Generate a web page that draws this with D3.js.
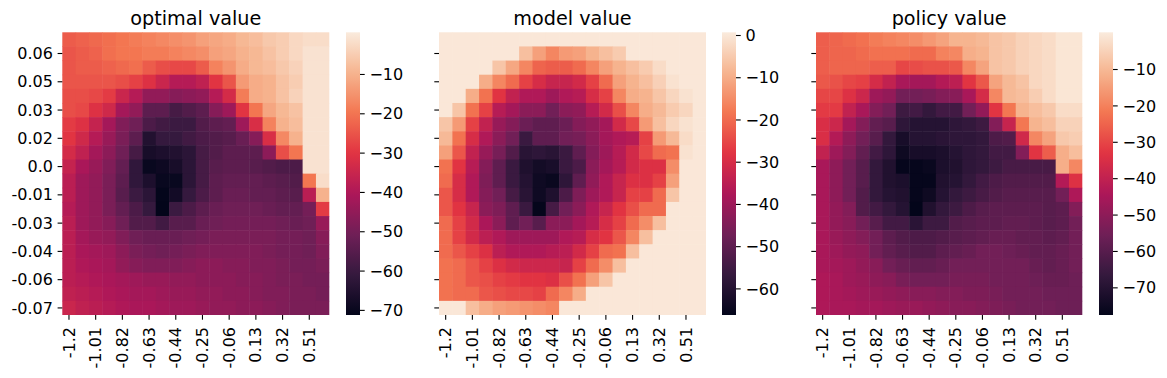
<!DOCTYPE html>
<html><head><meta charset="utf-8">
<script src="https://cdn.jsdelivr.net/npm/d3@7"></script>
<style>
html,body{margin:0;padding:0;background:#fff;}
text{font-family:"DejaVu Sans",sans-serif;fill:#000;}
</style></head><body>
<svg id="chart" width="1167" height="378"></svg>
<script>
// ---- categories / tick labels ----
const positions = ["-1.2","-1.11","-1.01","-0.92","-0.82","-0.73","-0.63","-0.54","-0.44","-0.35","-0.25","-0.16","-0.06","0.03","0.13","0.22","0.32","0.41","0.51","0.6"];
// velocity labels, top row first
const velocities = ["0.07","0.06","0.06","0.05","0.04","0.03","0.03","0.02","0.01","0.0","-0.0","-0.01","-0.02","-0.03","-0.03","-0.04","-0.05","-0.06","-0.06","-0.07"];
const titles = ["optimal value","model value","policy value"];

// ---- series values (rows: top = 0.07 velocity; cols: positions) ----
const optimalValue = [
[-24,-23,-22,-21,-20,-19,-18,-17,-16,-15,-13,-12,-11,-9,-8,-6,-5,-3,-2,-2],
[-25,-24,-23,-21,-20,-20,-19,-19,-18,-17,-16,-13,-12,-10,-9,-7,-5,-3,-1,-1],
[-25,-24,-24,-23,-22,-21,-24,-26,-27,-27,-24,-18,-15,-11,-9,-8,-6,-4,-1,-1],
[-25,-25,-25,-25,-26,-28,-31,-35,-39,-39,-37,-30,-25,-14,-11,-10,-7,-5,-1,-1],
[-26,-26,-27,-29,-35,-39,-45,-45,-47,-46,-45,-39,-33,-19,-11,-10,-7,-4,-1,-1],
[-26,-27,-31,-34,-42,-45,-54,-54,-58,-56,-54,-47,-43,-30,-20,-12,-9,-7,-1,-1],
[-29,-31,-36,-42,-48,-51,-57,-59,-60,-60,-56,-54,-53,-43,-32,-18,-10,-8,-1,-1],
[-30,-34,-39,-44,-49,-54,-65,-61,-61,-59,-57,-56,-55,-52,-47,-32,-17,-10,-1,-1],
[-33,-37,-42,-46,-51,-58,-67,-66,-65,-63,-58,-56,-54,-54,-54,-46,-26,-20,-1,-1],
[-36,-41,-44,-48,-53,-62,-70,-69,-67,-63,-58,-55,-54,-54,-55,-56,-57,-57,-1,-1],
[-38,-43,-45,-49,-54,-62,-66,-70,-70,-63,-58,-54,-53,-53,-53,-54,-55,-56,-20,-2],
[-38,-43,-45,-49,-55,-60,-63,-71,-68,-61,-57,-54,-52,-52,-53,-53,-54,-55,-38,-10],
[-39,-43,-45,-49,-53,-57,-61,-72,-60,-57,-54,-52,-51,-51,-51,-52,-53,-53,-50,-29],
[-38,-43,-45,-47,-51,-56,-56,-59,-55,-55,-52,-51,-50,-50,-50,-50,-51,-52,-51,-44],
[-38,-42,-44,-45,-48,-51,-52,-52,-52,-51,-50,-49,-49,-49,-49,-49,-50,-50,-51,-47],
[-38,-41,-42,-43,-46,-49,-50,-51,-50,-49,-48,-48,-48,-48,-48,-49,-50,-50,-51,-48],
[-38,-40,-41,-42,-45,-47,-48,-48,-48,-47,-46,-46,-47,-47,-48,-48,-49,-50,-50,-49],
[-38,-39,-40,-41,-42,-43,-44,-44,-45,-45,-46,-46,-46,-47,-47,-48,-49,-49,-50,-50],
[-37,-38,-39,-40,-41,-42,-42,-43,-44,-44,-45,-45,-46,-46,-47,-48,-48,-49,-49,-50],
[-35,-37,-38,-39,-40,-41,-41,-42,-43,-43,-44,-45,-45,-46,-46,-47,-48,-49,-49,-49]
];
const modelValue = [
[0,0,0,0,0,0,0,0,0,0,0,0,0,0,0,0,0,0,0,0],
[0,0,0,0,0,0,-7,-12,-16,-13,-12,-9,-7,-5,0,0,0,0,0,0],
[0,0,0,0,-6,-11,-16,-21,-22,-22,-20,-16,-12,-9,-7,-5,-2,0,0,0],
[0,0,0,-10,-16,-20,-26,-30,-33,-33,-31,-26,-20,-12,-9,-7,-4,-1,0,0],
[0,0,-10,-19,-28,-34,-37,-37,-40,-37,-36,-30,-26,-16,-10,-9,-6,-3,-1,0],
[0,-6,-19,-26,-36,-39,-43,-43,-47,-43,-42,-36,-31,-24,-16,-10,-8,-5,-3,0],
[-6,-13,-26,-34,-41,-44,-48,-50,-50,-48,-44,-42,-39,-31,-25,-13,-7,-3,-1,0],
[-8,-19,-30,-37,-43,-47,-56,-50,-50,-47,-46,-43,-39,-37,-36,-26,-13,-8,-2,0],
[-12,-23,-34,-41,-46,-52,-59,-58,-59,-56,-50,-44,-40,-36,-31,-25,-20,-19,-1,0],
[-19,-28,-36,-44,-50,-56,-61,-63,-62,-56,-53,-43,-39,-36,-31,-29,-29,-15,0,0],
[-20,-30,-37,-45,-50,-56,-60,-64,-65,-58,-50,-42,-37,-33,-29,-29,-26,-12,0,0],
[-23,-30,-37,-44,-47,-54,-59,-64,-61,-53,-45,-40,-37,-33,-26,-26,-20,-6,0,0],
[-23,-28,-33,-43,-45,-50,-56,-66,-54,-47,-43,-37,-33,-28,-24,-20,-20,0,0,0],
[-20,-26,-31,-38,-43,-50,-47,-51,-43,-43,-39,-36,-30,-26,-20,-15,-7,0,0,0],
[-20,-26,-31,-35,-37,-40,-40,-40,-40,-37,-36,-30,-28,-23,-16,-7,0,0,0,0],
[-20,-23,-26,-29,-35,-37,-37,-37,-36,-35,-31,-26,-20,-19,-7,0,0,0,0,0],
[-19,-20,-23,-26,-29,-31,-32,-32,-32,-33,-26,-20,-15,-7,0,0,0,0,0,0],
[-19,-20,-23,-24,-26,-27,-28,-28,-29,-24,-19,-12,-6,0,0,0,0,0,0,0],
[-19,-20,-20,-23,-24,-25,-25,-26,-20,-16,-10,0,0,0,0,0,0,0,0,0],
[0,0,-7,-10,-12,-13,-14,-15,-16,0,0,0,0,0,0,0,0,0,0,0]
];
const policyValue = [
[-26,-25,-24,-23,-21,-20,-19,-18,-16,-14,-11,-11,-10,-8,-7,-5,-4,-3,-1,-1],
[-26,-25,-25,-24,-23,-23,-23,-24,-24,-20,-19,-12,-11,-8,-7,-5,-4,-3,-1,-1],
[-26,-25,-25,-25,-26,-26,-30,-29,-28,-28,-27,-19,-14,-8,-7,-5,-4,-3,-1,-1],
[-27,-28,-30,-31,-36,-40,-45,-46,-46,-43,-41,-33,-27,-14,-10,-8,-4,-3,-1,-1],
[-30,-30,-34,-38,-47,-49,-55,-55,-54,-52,-51,-45,-36,-19,-10,-9,-6,-3,-1,-1],
[-32,-32,-40,-45,-52,-55,-65,-64,-67,-64,-64,-55,-49,-33,-22,-11,-9,-7,-3,-3],
[-35,-38,-46,-52,-58,-60,-68,-70,-70,-70,-68,-67,-65,-52,-39,-22,-11,-9,-5,-5],
[-35,-43,-50,-55,-60,-67,-73,-70,-70,-69,-68,-68,-67,-62,-61,-37,-19,-14,-7,-6],
[-40,-47,-52,-58,-64,-68,-75,-73,-73,-72,-70,-68,-67,-64,-64,-52,-33,-26,-12,-9],
[-45,-50,-55,-60,-67,-71,-77,-77,-76,-72,-71,-68,-67,-65,-63,-63,-63,-63,-12,-19],
[-45,-50,-55,-60,-67,-71,-72,-77,-77,-71,-70,-67,-64,-62,-61,-61,-61,-61,-43,-34],
[-45,-50,-55,-61,-67,-70,-71,-77,-75,-70,-67,-65,-63,-61,-60,-60,-60,-60,-55,-44],
[-45,-49,-52,-61,-64,-67,-70,-78,-71,-67,-65,-62,-60,-59,-59,-59,-59,-60,-59,-52],
[-45,-49,-51,-55,-60,-64,-64,-69,-65,-65,-61,-60,-59,-59,-58,-58,-59,-60,-59,-55],
[-45,-48,-50,-52,-55,-59,-61,-62,-62,-61,-60,-59,-58,-57,-57,-58,-58,-59,-58,-55],
[-45,-47,-49,-50,-55,-58,-60,-61,-61,-59,-58,-57,-55,-55,-56,-57,-58,-58,-57,-55],
[-45,-46,-47,-49,-51,-55,-57,-58,-58,-57,-55,-55,-55,-55,-55,-55,-57,-58,-57,-55],
[-44,-45,-47,-48,-50,-51,-54,-55,-55,-55,-54,-54,-54,-55,-55,-55,-56,-57,-57,-56],
[-44,-45,-46,-47,-48,-49,-50,-51,-51,-52,-52,-53,-53,-54,-55,-55,-55,-56,-56,-56],
[-44,-45,-45,-46,-46,-47,-48,-48,-49,-50,-51,-51,-52,-53,-54,-55,-55,-55,-56,-56]
];
const seriesList = [optimalValue, modelValue, policyValue];
const colorDomains = [[-71.3, 0.6], [-66.3, 0.64], [-77.6, 0.09]];
const colorTicks = [[-70,-60,-50,-40,-30,-20,-10],[-60,-50,-40,-30,-20,-10,0],[-70,-60,-50,-40,-30,-20,-10]];

// ---- rocket colormap (seaborn) ----
const rocketStops = ["#03051a","#35193e","#701f57","#ad1759","#e13342","#f37651","#f6b48f","#faebdd"];
const rocket = d3.scaleLinear().domain(d3.range(rocketStops.length).map(i => i/(rocketStops.length-1)))
  .range(rocketStops).interpolate(d3.interpolateRgb).clamp(true);

// ---- layout ----
const panels = [
  {x0:62.3, x1:329.3, cb:346},
  {x0:439, x1:706, cb:722},
  {x0:816, x1:1082.3, cb:1099}
];
const plotTop = 32.3, plotBottom = 315, cbW = 14, tickLen = 4.7, fs = 16;

const svg = d3.select("#chart");
const defs = svg.append("defs");

panels.forEach((p, k) => {
  const data = seriesList[k];
  const x = d3.scaleBand().domain(d3.range(positions.length)).range([p.x0, p.x1]).paddingInner(0).paddingOuter(0);
  const y = d3.scaleBand().domain(d3.range(velocities.length)).range([plotTop, plotBottom]).paddingInner(0).paddingOuter(0);
  const c = d3.scaleLinear().domain(colorDomains[k]).range([0,1]).clamp(true);
  const g = svg.append("g");

  const cells = [];
  data.forEach((row, r) => row.forEach((v, ci) => cells.push({r, ci, v})));
  g.selectAll("rect.cell").data(cells).enter().append("rect")
    .attr("x", d => x(d.ci)).attr("y", d => y(d.r))
    .attr("width", d => d.ci === positions.length - 1 ? x.bandwidth() : x.bandwidth() + 0.5)
    .attr("height", d => d.r === velocities.length - 1 ? y.bandwidth() : y.bandwidth() + 0.5)
    .attr("fill", d => rocket(c(d.v)));

  // x axis
  const xAxis = d3.axisBottom(x)
    .tickValues(d3.range(0, positions.length, 2))
    .tickFormat(i => positions[i]).tickSize(tickLen).tickPadding(0);
  const gx = g.append("g").attr("transform", `translate(0,${plotBottom})`).call(xAxis);
  gx.select(".domain").remove();
  gx.selectAll(".tick line").attr("stroke", "#000").attr("stroke-width", 1.1);
  gx.selectAll(".tick text")
    .attr("font-size", fs)
    .attr("transform", "rotate(-90)")
    .attr("text-anchor", "end")
    .attr("x", -12).attr("y", 0).attr("dy", "0.35em");

  // y axis
  const yAxis = d3.axisLeft(y)
    .tickValues(d3.range(1, velocities.length, 2))
    .tickFormat(i => k === 0 ? velocities[i] : "").tickSize(tickLen).tickPadding(4.7);
  const gy = g.append("g").attr("transform", `translate(${p.x0},0)`).call(yAxis);
  gy.select(".domain").remove();
  gy.selectAll(".tick line").attr("stroke", "#000").attr("stroke-width", 1.1);
  gy.selectAll(".tick text").attr("font-size", fs).attr("dy", "0.35em");

  // title
  g.append("text").attr("x", (p.x0 + p.x1) / 2).attr("y", 24.5)
    .attr("text-anchor", "middle").attr("font-size", 19.2).text(titles[k]);

  // colorbar
  const gradId = "grad" + k;
  const grad = defs.append("linearGradient").attr("id", gradId)
    .attr("x1", 0).attr("y1", 1).attr("x2", 0).attr("y2", 0);
  d3.range(0, 1.0001, 0.02).forEach(t => {
    grad.append("stop").attr("offset", t).attr("stop-color", rocket(t));
  });
  g.append("rect").attr("x", p.cb).attr("y", plotTop).attr("width", cbW).attr("height", plotBottom - plotTop)
    .attr("fill", `url(#${gradId})`);
  const cy = d3.scaleLinear().domain(colorDomains[k]).range([plotBottom, plotTop]);
  const cAxis = d3.axisRight(cy).tickValues(colorTicks[k])
    .tickFormat(v => v < 0 ? "\u2212" + Math.abs(v) : String(v)).tickSize(tickLen).tickPadding(4.7);
  const gc = g.append("g").attr("transform", `translate(${p.cb + cbW},0)`).call(cAxis);
  gc.select(".domain").remove();
  gc.selectAll(".tick line").attr("stroke", "#000").attr("stroke-width", 1.1);
  gc.selectAll(".tick text").attr("font-size", fs).attr("dy", "0.35em");
});
</script>
</body></html>
